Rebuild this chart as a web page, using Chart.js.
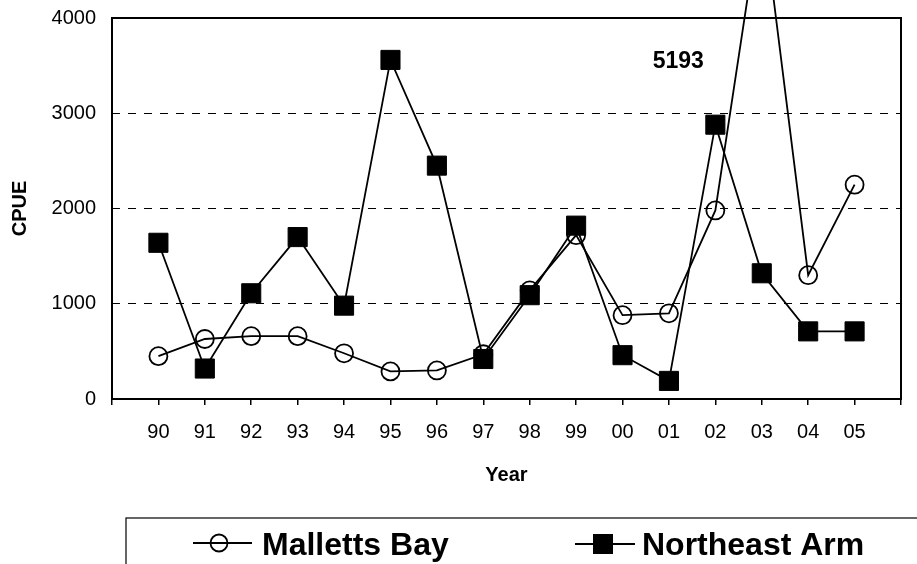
<!DOCTYPE html>
<html>
<head>
<meta charset="utf-8">
<script src="https://cdn.jsdelivr.net/npm/chart.js@4"></script>
<style>
  body { margin: 0; background: #fff; }
</style>
</head>
<body>
<canvas id="cpueChart" width="917" height="564"></canvas>
<script>
const ctx = document.getElementById("cpueChart");

// data
const years = ["90", "91", "92", "93", "94", "95", "96", "97", "98", "99", "00", "01", "02", "03", "04", "05"];
const mallettsBay = [450, 630, 660, 660, 480, 290, 300, 470, 1140, 1720, 880, 900, 1980, 5193, 1300, 2250];
const northeastArm = [1640, 320, 1110, 1700, 980, 3560, 2450, 420, 1090, 1820, 460, 190, 2880, 1320, 710, 710];
const yTicks = [0, 1000, 2000, 3000, 4000];

const FONT = "'Liberation Sans', Arial, sans-serif";

const toPoints = (vals) => vals.map((v, i) => ({ x: i + 1, y: v }));

//_ plugins
const frame = {
  id: "frame",
  beforeDraw(chart) {
    const c = chart.ctx;
    c.save();
    c.fillStyle = "#fff";
    c.fillRect(0, 0, chart.width, chart.height);
    c.restore();
  },
  beforeDatasetsDraw(chart) {
    const { ctx: c, chartArea: a } = chart;
    c.save();
    c.strokeStyle = "#000";
    c.lineWidth = 2;
    c.strokeRect(a.left, a.top, a.right - a.left, a.bottom - a.top);
    c.restore();
  },
  afterDraw(chart) {
    const c = chart.ctx;
    const xs = chart.scales.x;
    const ys = chart.scales.y;

    // off-scale value note
    const peak = Math.max(...mallettsBay);
    c.save();
    c.fillStyle = "#000";
    c.font = "bold 23px " + FONT;
    c.textAlign = "center";
    c.textBaseline = "middle";
    c.fillText(String(peak), xs.getPixelForValue(12.2), ys.getPixelForValue(3540));

    // legend box
    c.lineWidth = 1.2;
    c.strokeStyle = "#000";
    c.strokeRect(126, 518, 900, 100);

    c.lineWidth = 1.8;
    c.beginPath();
    c.moveTo(193, 543);
    c.lineTo(252, 543);
    c.stroke();
    c.beginPath();
    c.arc(219, 543, 8.5, 0, Math.PI * 2);
    c.stroke();

    c.beginPath();
    c.moveTo(575, 544);
    c.lineTo(635, 544);
    c.stroke();
    c.fillRect(593, 534, 20, 20);

    c.font = "bold 32px " + FONT;
    c.textAlign = "left";
    c.textBaseline = "alphabetic";
    c.fillText(chart.data.datasets[0].label, 262, 555);
    c.fillText(chart.data.datasets[1].label, 642, 555);
    c.restore();
  },
};

const cpueChart = new Chart(ctx, {
  type: "line",
  data: {
    datasets: [
      {
        label: "Malletts Bay",
        data: toPoints(mallettsBay),
        borderColor: "#000",
        borderWidth: 1.8,
        backgroundColor: "rgba(0,0,0,0)",
        pointStyle: "circle",
        pointRadius: 9,
        pointBorderWidth: 1.8,
        pointBorderColor: "#000",
        pointBackgroundColor: "rgba(0,0,0,0)",
        clip: false,
        order: 1,
      },
      {
        label: "Northeast Arm",
        data: toPoints(northeastArm),
        borderColor: "#000",
        borderWidth: 1.8,
        backgroundColor: "#000",
        pointStyle: "rect",
        pointRadius: 13.5,
        pointBorderWidth: 1,
        pointBorderColor: "#000",
        pointBackgroundColor: "#000",
        clip: false,
        order: 0,
      },
    ],
  },
  options: {
    responsive: false,
    animation: false,
    devicePixelRatio: 1,
    layout: { padding: { left: 0, top: 18, right: 16, bottom: 0 } },
    plugins: {
      legend: { display: false },
      tooltip: { enabled: false },
    },
    elements: { line: { tension: 0 } },
    scales: {
      x: {
        type: "linear",
        min: 0,
        max: years.length + 1,
        afterFit: (scale) => {
          scale.height = 165;
          scale.paddingLeft = 0;
          scale.paddingRight = 0;
        },
        afterBuildTicks: (scale) => {
          scale.ticks = [];
          for (let i = 0; i <= years.length + 1; i++) scale.ticks.push({ value: i });
        },
        ticks: {
          autoSkip: false,
          maxRotation: 0,
          padding: 15,
          color: "#000",
          font: { family: FONT, size: 20 },
          callback: (v) => years[v - 1] || "",
        },
        grid: {
          drawOnChartArea: false,
          drawTicks: true,
          tickLength: 6,
          color: "#000",
          lineWidth: 1.5,
        },
        border: { display: false },
        title: {
          display: true,
          text: "Year",
          color: "#000",
          font: { family: FONT, size: 20, weight: "bold" },
          padding: { top: 0, bottom: 77 },
        },
      },
      y: {
        min: 0,
        max: 4000,
        afterFit: (scale) => {
          scale.width = 112;
          scale.paddingTop = 0;
          scale.paddingBottom = 0;
        },
        afterBuildTicks: (scale) => {
          scale.ticks = yTicks.map((v) => ({ value: v }));
        },
        ticks: {
          padding: 16,
          color: "#000",
          font: { family: FONT, size: 20 },
          callback: (v) => String(v),
        },
        grid: {
          drawTicks: false,
          tickLength: 0,
          lineWidth: 1,
          color: (c) => (c.tick && c.tick.value > 0 && c.tick.value < 4000 ? "#000" : "rgba(0,0,0,0)"),
        },
        border: { display: false, dash: [8, 8] },
        title: {
          display: true,
          text: "CPUE",
          color: "#000",
          font: { family: FONT, size: 20, weight: "bold" },
          padding: { top: 8, bottom: 0 },
        },
      },
    },
  },
  plugins: [frame],
});
</script>
</body>
</html>
